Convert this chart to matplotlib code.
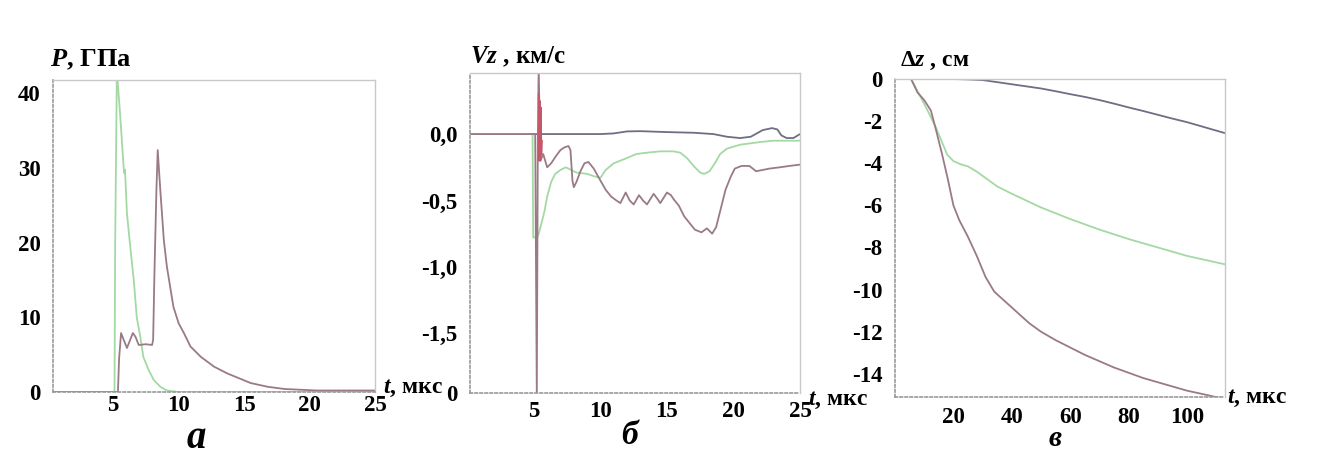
import matplotlib
matplotlib.use("Agg")
import matplotlib.pyplot as plt

plt.rcParams['font.family'] = ['Liberation Serif', 'DejaVu Serif']
plt.rcParams['font.weight'] = 'bold'
plt.rcParams['axes.unicode_minus'] = False
plt.rcParams['mathtext.fontset'] = 'custom'
plt.rcParams['mathtext.it'] = 'Liberation Serif:italic:bold'
plt.rcParams['mathtext.rm'] = 'Liberation Serif:bold'
plt.rcParams['mathtext.bf'] = 'Liberation Serif:bold'

W, H = 1322, 458

GREEN = '#a3d9a3'
MAUVE = '#9a7a86'
GREY = '#6e6e84'
RED = '#c4586a'

# --- panel a: pressure, GPa ---
pa_green_t = [0.3, 5.1, 5.15, 5.28, 5.54, 5.8, 5.85, 5.9, 6.05, 6.3, 6.57, 6.8, 7.07, 7.3,
              7.72, 8.1, 8.6, 9.1, 10.0, 25.0]
pa_green_p = [0.0, 0.0, 20.0, 43.0, 36.9, 30.0, 29.3, 29.8, 23.9, 19.5, 15.0, 10.0, 7.4, 4.7,
              2.9, 1.6, 0.7, 0.2, 0.0, 0.0]
pa_mauve_t = [0.3, 5.36, 5.45, 5.6, 5.8, 6.05, 6.3, 6.5, 6.7, 6.95, 7.5, 7.97, 8.05, 8.15,
              8.3, 8.4, 8.6, 8.87, 9.1, 9.6, 10.0, 10.4, 10.9, 11.7, 12.7, 13.7, 15.5, 16.8,
              18.1, 20.6, 25.0]
pa_mauve_p = [0.0, 0.0, 4.5, 7.9, 7.0, 5.9, 7.0, 7.9, 7.4, 6.3, 6.4, 6.3, 7.0, 15.9,
              27.0, 32.4, 27.0, 20.3, 16.8, 11.4, 9.2, 7.9, 6.1, 4.7, 3.4, 2.5, 1.2, 0.7,
              0.4, 0.2, 0.2]

# --- panel b: velocity Vz, km/s ---
vb_grey_t = [0.3, 10.0, 11.0, 12.0, 13.0, 15.0, 17.0, 18.5, 19.5, 20.5, 21.3, 22.2, 22.9,
             23.3, 23.6, 24.0, 24.5, 25.0]
vb_grey_v = [0.0, 0.0, 0.005, 0.02, 0.022, 0.015, 0.01, 0.0, -0.02, -0.03, -0.02, 0.03, 0.045,
             0.035, -0.01, -0.03, -0.03, 0.0]
vb_green_t = [0.3, 4.9, 4.95, 5.3, 5.5, 5.8, 6.0, 6.3, 6.6, 7.0, 7.4, 7.8, 8.2, 9.0, 9.6,
              10.0, 10.4, 11.0, 11.5, 12.0, 12.7, 13.5, 14.5, 15.5, 16.0, 16.5, 17.0, 17.5,
              17.8, 18.2, 18.6, 19.0, 19.5, 20.5, 22.0, 23.0, 25.0]
vb_green_v = [0.0, 0.0, -0.78, -0.77, -0.70, -0.58, -0.47, -0.36, -0.30, -0.27, -0.25, -0.27,
              -0.29, -0.30, -0.32, -0.33, -0.27, -0.22, -0.20, -0.18, -0.15, -0.14, -0.13,
              -0.13, -0.14, -0.18, -0.24, -0.29, -0.30, -0.28, -0.22, -0.15, -0.11, -0.08,
              -0.06, -0.05, -0.05]
vb_mauve_t = [0.3, 5.1, 5.22, 5.3, 5.36, 5.5, 5.7, 6.0, 6.3, 6.7, 7.0, 7.3, 7.6, 7.75, 7.9,
              8.0, 8.2, 8.5, 8.8, 9.1, 9.5, 10.0, 10.4, 10.8, 11.2, 11.5, 11.9, 12.2, 12.5,
              12.9, 13.2, 13.5, 14.0, 14.3, 14.5, 15.0, 15.3, 15.5, 15.9, 16.3, 16.7, 17.1,
              17.6, 18.0, 18.4, 18.7, 18.9, 19.4, 19.8, 20.1, 20.6, 21.2, 21.7, 22.2, 22.7,
              23.5, 24.2, 25.0]
vb_mauve_v = [0.0, 0.0, -1.97, 0.0, 0.5, -0.2, -0.15, -0.25, -0.22, -0.16, -0.12, -0.10,
              -0.09, -0.12, -0.35, -0.40, -0.36, -0.28, -0.22, -0.21, -0.26, -0.35, -0.42,
              -0.47, -0.50, -0.52, -0.44, -0.50, -0.53, -0.46, -0.50, -0.53, -0.45, -0.49,
              -0.52, -0.44, -0.46, -0.49, -0.54, -0.62, -0.67, -0.72, -0.74, -0.71, -0.75,
              -0.70, -0.62, -0.42, -0.32, -0.26, -0.24, -0.24, -0.28, -0.27, -0.26, -0.25,
              -0.24, -0.23]
vb_red_t = [5.36, 5.4, 5.44, 5.48, 5.52, 5.56, 5.6]
vb_red_v = [0.3, -0.2, 0.25, -0.2, 0.2, -0.15, -0.05]

# --- panel c: displacement dz, cm ---
zc_grey_t = [0.0, 20.0, 25.0, 30.0, 35.0, 40.0, 45.0, 50.0, 55.0, 60.0, 65.0, 70.0, 75.0,
             80.0, 85.0, 90.0, 95.0, 100.0, 105.0, 110.0, 113.0]
zc_grey_z = [0.0, 0.0, -0.02, -0.05, -0.15, -0.25, -0.35, -0.45, -0.58, -0.72, -0.85, -1.0,
             -1.17, -1.35, -1.52, -1.7, -1.88, -2.05, -2.25, -2.45, -2.57]
zc_green_t = [5.5, 8.0, 11.0, 14.0, 17.9, 20.0, 22.5, 25.0, 28.0, 30.0, 35.0, 40.0, 50.0,
              60.0, 70.0, 80.0, 90.0, 100.0, 113.0]
zc_green_z = [0.0, -0.65, -1.45, -2.3, -3.6, -3.9, -4.05, -4.15, -4.4, -4.6, -5.1, -5.45,
              -6.1, -6.65, -7.15, -7.6, -8.0, -8.4, -8.8]
zc_mauve_t = [5.5, 7.7, 10.0, 12.3, 14.0, 16.0, 18.0, 20.0, 22.0, 25.0, 28.0, 31.0, 34.0,
              38.0, 42.0, 46.0, 50.0, 55.0, 60.0, 65.0, 70.0, 75.0, 80.0, 85.0, 90.0, 95.0,
              100.0, 105.0, 113.0]
zc_mauve_z = [0.0, -0.64, -1.0, -1.5, -2.4, -3.5, -4.7, -6.0, -6.7, -7.5, -8.4, -9.4, -10.1,
              -10.6, -11.1, -11.6, -12.0, -12.4, -12.75, -13.1, -13.4, -13.7, -13.95, -14.2,
              -14.4, -14.6, -14.8, -14.95, -15.2]

a_xticks = [5, 10, 15, 20, 25]
a_yticks = [0, 10, 20, 30, 40]
b_xticks = [5, 10, 15, 20, 25]
b_yticks = [-1.95, -1.5, -1.0, -0.5, 0.0]
b_ylabels = ['0', '-1,5', '-1,0', '-0,5', '0,0']
c_xticks = [20, 40, 60, 80, 100]
c_yticks = [-14, -12, -10, -8, -6, -4, -2, 0]


def box(l, r, t, b):
    return [l / W, (H - b) / H, (r - l) / W, (b - t) / H]


def px(x, y):
    return x / W, (H - y) / H


def style(ax, xpad):
    for s in ['top', 'right']:
        ax.spines[s].set_color('#c8c8c8')
        ax.spines[s].set_linewidth(1.0)
    for s in ['left', 'bottom']:
        ax.spines[s].set_color('#9a9a9a')
        ax.spines[s].set_linestyle((0, (1.5, 1.5)))
        ax.spines[s].set_linewidth(1.2)
    ax.tick_params(length=0, labelsize=16.5)
    ax.tick_params(axis='y', pad=9)
    ax.tick_params(axis='x', pad=xpad)
    for lb in ax.get_xticklabels() + ax.get_yticklabels():
        lb.set_fontweight('bold')


fig = plt.figure(figsize=(W / 100, H / 100), dpi=100)

# panel a
ax1 = fig.add_axes(box(53, 375, 80, 392))
ax1.plot(pa_green_t, pa_green_p, color=GREEN, lw=1.3)
ax1.plot(pa_mauve_t, pa_mauve_p, color=MAUVE, lw=1.3)
ax1.set_xlim(0.4, 25)
ax1.set_ylim(0, 41.8)
ax1.set_xticks(a_xticks)
ax1.set_yticks(a_yticks)
style(ax1, 2)

# panel b
ax2 = fig.add_axes(box(470, 800, 73, 393))
ax2.plot(vb_grey_t, vb_grey_v, color=GREY, lw=1.3)
ax2.plot(vb_green_t, vb_green_v, color=GREEN, lw=1.3)
ax2.plot(vb_mauve_t, vb_mauve_v, color=MAUVE, lw=1.3)
ax2.plot(vb_red_t, vb_red_v, color=RED, lw=1.3)
ax2.set_xlim(0.2, 25)
ax2.set_ylim(-1.95, 0.46)
ax2.set_xticks(b_xticks)
ax2.set_yticks(b_yticks)
ax2.set_yticklabels(b_ylabels)
style(ax2, 6)

# panel c
ax3 = fig.add_axes(box(895, 1225, 79, 397))
ax3.plot(zc_grey_t, zc_grey_z, color=GREY, lw=1.3)
ax3.plot(zc_green_t, zc_green_z, color=GREEN, lw=1.3)
ax3.plot(zc_mauve_t, zc_mauve_z, color=MAUVE, lw=1.3)
ax3.set_xlim(0, 113)
ax3.set_ylim(-15.1, 0)
ax3.set_xticks(c_xticks)
ax3.set_yticks(c_yticks)
style(ax3, 7.5)

# axis titles
fig.text(*px(50, 66), r'$\mathit{P}$, ГПа', fontsize=19, fontweight='bold', va='baseline')
fig.text(*px(470, 63), r'$\mathit{V}\mathit{z}$ , км/с', fontsize=18, fontweight='bold', va='baseline')
fig.text(*px(900, 66), r'Δ$\mathit{z}$ , см', fontsize=17, fontweight='bold', va='baseline')

for x, y in [(383, 388), (808, 400), (1227, 398)]:
    fig.text(*px(x, y), r'$\mathit{t}$, мкс', fontsize=17, fontweight='bold', va='center')

# panel letters
fig.text(*px(196, 438), 'а', fontsize=28, fontweight='bold', fontstyle='italic', ha='center', va='center')
fig.text(*px(630, 436), 'б', fontsize=24, fontweight='bold', fontstyle='italic', ha='center', va='center')
fig.text(*px(1055, 438), 'в', fontsize=21, fontweight='bold', fontstyle='italic', ha='center', va='center')

fig.savefig('out.png', dpi=100)
